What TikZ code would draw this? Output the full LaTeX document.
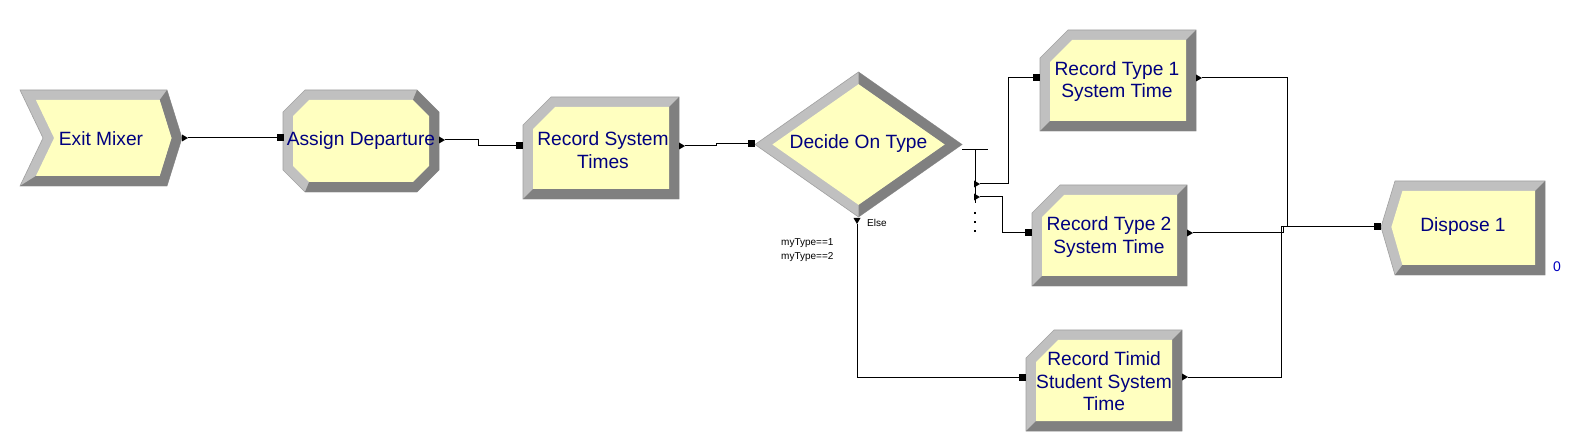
\documentclass[tikz,border=0pt]{standalone}
\usepackage{fontspec}
\setmainfont{Liberation Sans}
\definecolor{bevlight}{HTML}{C0C0C0}
\definecolor{bevdark}{HTML}{808080}
\definecolor{bevline}{HTML}{A0A0A0}
\definecolor{modfill}{HTML}{FFFFC0}
\definecolor{modtext}{HTML}{000080}
\definecolor{cnt}{HTML}{0000C0}
\newcommand{\recshape}[4]{% L T R B, chamfer 28, bevel 10
  \fill[bevlight,draw=bevline,line width=0.6bp] (#1,{#2+28}) -- ({#1+28},#2) -- (#3,#2) -- (#3,#4) -- (#1,#4) -- cycle;
  \fill[bevdark] (#3,#2) -- (#3,#4) -- (#1,#4) -- ({#1+10},{#4-10}) -- ({#3-10},{#4-10}) -- ({#3-10},{#2+10}) -- cycle;
  \fill[modfill] ({#1+10},{#2+32.1}) -- ({#1+32.1},{#2+10}) -- ({#3-10},{#2+10}) -- ({#3-10},{#4-10}) -- ({#1+10},{#4-10}) -- cycle;
}
\newcommand{\outtri}[1]{\fill[black] ($(#1)+(-6,-3.5)$) -- (#1) -- ($(#1)+(-6,3.5)$) -- cycle;}
\newcommand{\downtri}[1]{\fill[black] ($(#1)+(-3.5,-6)$) -- (#1) -- ($(#1)+(3.5,-6)$) -- cycle;}
\newcommand{\insq}[1]{\fill[black] ($(#1)+(-3.5,-3.5)$) rectangle ($(#1)+(3.5,3.5)$);}
\usetikzlibrary{calc}
\begin{document}
\begin{tikzpicture}[x=1bp,y=-1bp,
  modlabel/.style={text=modtext,font=\fontsize{19.2bp}{22.6bp}\selectfont,align=center,inner sep=0pt},
  smalllabel/.style={text=black,font=\fontsize{10bp}{12bp}\selectfont,inner sep=0pt,anchor=west},
  conn/.style={draw=black,line width=1bp}]
\useasboundingbox[fill=white] (0,0) rectangle (1578,442);

% ---------- Exit Mixer (chevron)
\fill[bevlight,draw=bevline,line width=0.6bp] (20,90) -- (167,90) -- (182,138) -- (167,186) -- (20,186) -- (43,138) -- cycle;
\fill[bevdark] (167,90) -- (182,138) -- (167,186) -- (20,186) -- (35.9,176) -- (159.7,176) -- (171.5,138) -- (159.7,100) -- cycle;
\fill[modfill] (35.9,100) -- (159.7,100) -- (171.5,138) -- (159.7,176) -- (35.9,176) -- (54.1,138) -- cycle;
\node[modlabel] (exitmixer) at (101,139) {Exit Mixer};

% ---------- Assign Departure (octagon)
\fill[bevlight,draw=bevline,line width=0.6bp] (283,112) -- (305,90) -- (417,90) -- (439,112) -- (439,170) -- (417,192) -- (305,192) -- (283,170) -- cycle;
\fill[bevdark] (417,90) -- (439,112) -- (439,170) -- (417,192) -- (305,192) -- (309.1,182) -- (412.9,182) -- (429,165.9) -- (429,116.1) -- (412.9,100) -- cycle;
\fill[modfill] (293,116.1) -- (309.1,100) -- (412.9,100) -- (429,116.1) -- (429,165.9) -- (412.9,182) -- (309.1,182) -- (293,165.9) -- cycle;
\node[modlabel] (assign) at (361,141) {Assign Departure};

% ---------- Record System Times
\recshape{523}{97}{679}{199}
\node[modlabel] (recsys) at (603,150) {Record System\\Times};

% ---------- Decide On Type (diamond)
\fill[bevlight,draw=bevline,line width=0.6bp] (755,144.5) -- (858.5,72) -- (962,144.5) -- (858.5,217) -- cycle;
\fill[bevdark] (858.5,72) -- (962,144.5) -- (858.5,217) -- (858.5,204.8) -- (944.6,144.5) -- (858.5,84.2) -- cycle;
\fill[modfill] (772.4,144.5) -- (858.5,84.2) -- (944.6,144.5) -- (858.5,204.8) -- cycle;
\node[modlabel] (decide) at (858.5,144) {Decide On Type};

% ---------- Record Type 1
\recshape{1040}{30}{1196}{131}
\node[modlabel] (rec1) at (1117,81.5) {Record Type 1\\System Time};

% ---------- Record Type 2
\recshape{1032}{185}{1187}{286}
\node[modlabel] (rec2) at (1109,237) {Record Type 2\\System Time};

% ---------- Record Timid
\recshape{1026}{330}{1182}{431}
\node[modlabel] (rectimid) at (1104,381.5) {Record Timid\\Student System\\Time};

% ---------- Dispose 1
\fill[bevlight,draw=bevline,line width=0.6bp] (1395,181) -- (1545,181) -- (1545,275) -- (1395,275) -- (1381,227) -- cycle;
\fill[bevdark] (1545,181) -- (1545,275) -- (1395,275) -- (1402.4,265) -- (1535,265) -- (1535,191) -- cycle;
\fill[modfill] (1402.4,191) -- (1535,191) -- (1535,265) -- (1402.4,265) -- (1391.4,227) -- cycle;
\node[modlabel] (dispose) at (1463,227) {Dispose 1};
\node[text=cnt,font=\fontsize{14bp}{16bp}\selectfont,inner sep=0pt] (count) at (1557,267) {0};

% ---------- ports
\coordinate (exitout) at (188,138);
\coordinate (assignin) at (280,138);
\coordinate (assignout) at (445,140);
\coordinate (recsysin) at (519.5,146);
\coordinate (recsysout) at (685,146);
\coordinate (decidein) at (751.5,144);
\coordinate (decidetop) at (962,150);
\coordinate (decideend) at (988,150);
\coordinate (busup) at (975,150);
\coordinate (busdown) at (975,203);
\coordinate (dec1) at (980,184);
\coordinate (dec2) at (980,197);
\coordinate (decelse) at (857,224);
\coordinate (rec1in) at (1036.5,78);
\coordinate (rec1out) at (1202,78);
\coordinate (rec2in) at (1028.5,233);
\coordinate (rec2out) at (1193,233);
\coordinate (timidin) at (1022.5,377);
\coordinate (timidout) at (1188,377);
\coordinate (disposein) at (1377.5,227);

% ---------- connectors
\draw[conn] (exitout) -- (assignin);
\draw[conn] (assignout) -- ++(33,0) |- (recsysin);
\draw[conn] (recsysout) -- ++(31,0) |- (decidein);
\draw[conn] (decidetop) -- (decideend);
\draw[conn] (busup) -- (busdown);
\draw[conn] (dec1) -| (1008,78) -- (rec1in);
\draw[conn] (dec2) -| (1002,233) -- (rec2in);
\draw[conn] (decelse) |- (timidin);
\draw[conn] (rec1out) -| (1287,227);
\draw[conn] (rec2out) -| (1283,227) -- (disposein);
\draw[conn] (timidout) -| (1281,227) -- (1283,227);

% ---------- arrowheads and entry squares
\outtri{exitout}
\outtri{assignout}
\outtri{recsysout}
\outtri{dec1}
\outtri{dec2}
\downtri{decelse}
\outtri{rec1out}
\outtri{rec2out}
\outtri{timidout}
\insq{assignin}
\insq{recsysin}
\insq{decidein}
\insq{rec1in}
\insq{rec2in}
\insq{timidin}
\insq{disposein}

% dots below the decide branch
\foreach \yy in {213,222,231} \fill[black] (974.2,\yy-0.8) rectangle (975.8,\yy+0.8);

% ---------- condition labels
\node[smalllabel] (elselab) at (867,223) {Else};
\node[smalllabel] (cond1) at (781,243) {myType==1};
\node[smalllabel] (cond2) at (781,257) {myType==2};
\end{tikzpicture}
\end{document}
